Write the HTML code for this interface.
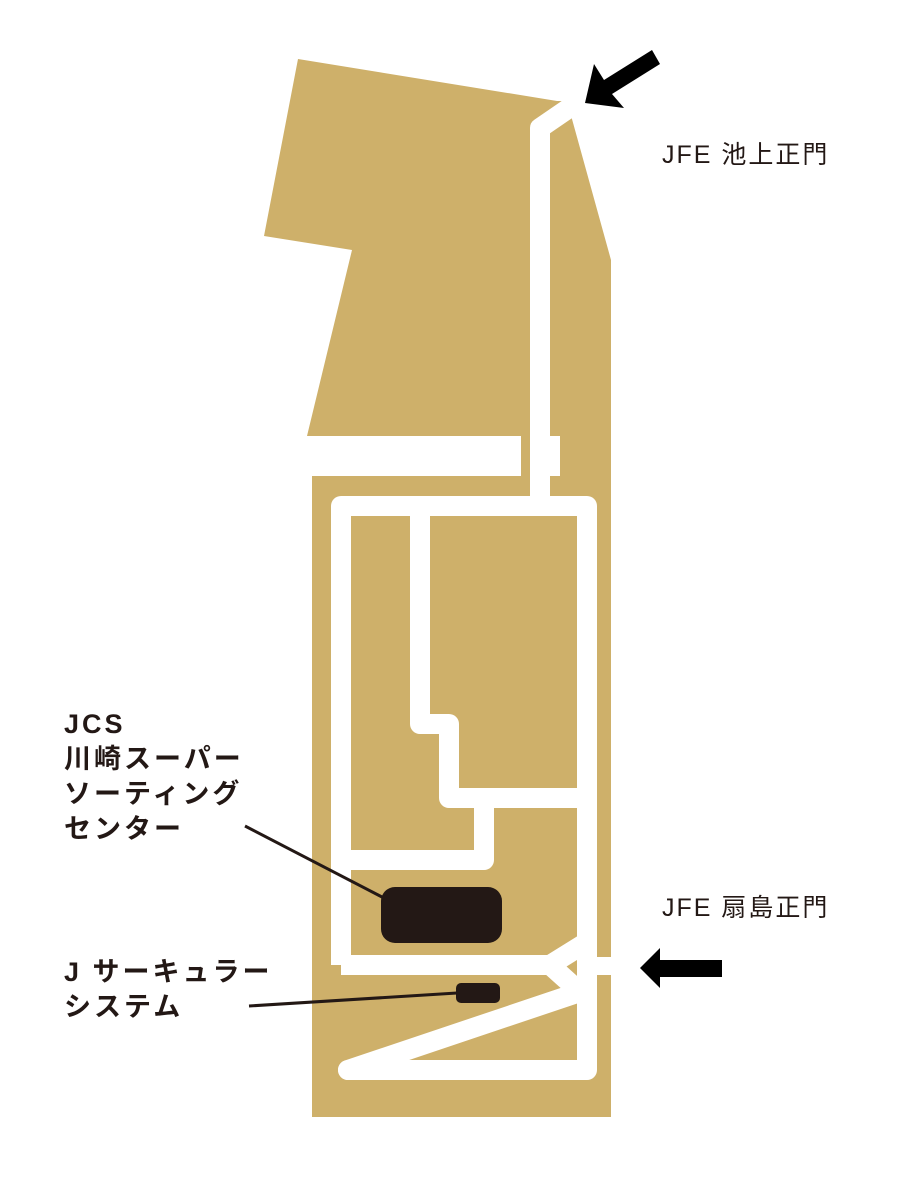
<!DOCTYPE html>
<html><head><meta charset="utf-8"><style>
html,body{margin:0;padding:0;background:#fff;}
svg{display:block;}
text{font-family:"Liberation Sans","Noto Sans CJK JP",sans-serif;fill:#231815;}
.b{font-weight:bold;font-size:27px;letter-spacing:3px;}
.g{font-size:25px;letter-spacing:2px;}
</style></head><body>
<svg width="900" height="1181" viewBox="0 0 900 1181" xmlns="http://www.w3.org/2000/svg">
<rect width="900" height="1181" fill="#fff"/>
<g fill="#ceb06a">
<polygon points="298,59 557,101 567,101 611,260 611,436 307,436 352,250 264,236"/>
<rect x="312" y="476" width="299" height="641"/>
<rect x="521" y="430" width="10" height="50"/>
<rect x="560" y="430" width="51" height="50"/>
</g>
<g fill="none" stroke="#fff" stroke-width="20" stroke-linejoin="round" stroke-linecap="butt">
<polyline points="540,500 540,128 575,104"/>
<path d="M341,965 L341,506 L587,506 L587,1070 L348,1070 L580,992 L550,965 L587,942" stroke-linejoin="round"/>
<line x1="341" y1="965" x2="552" y2="965"/>
<line x1="585" y1="966" x2="612" y2="966" stroke-width="18"/>
<polyline points="420,506 420,724 449,724 449,798 587,798"/>
<polyline points="484,798 484,860 341,860"/>
</g>
<circle cx="348" cy="1070" r="10" fill="#fff"/>
<rect x="381" y="887" width="121" height="56" rx="14" fill="#231815"/>
<rect x="456" y="983" width="44" height="20" rx="5" fill="#231815"/>
<line x1="245" y1="826" x2="382" y2="897" stroke="#231815" stroke-width="3"/>
<line x1="249" y1="1006" x2="457" y2="993" stroke="#231815" stroke-width="3"/>
<g fill="#000">
<polygon points="585,103 594,64 604,80 652,50 660,64 612,94 624,108"/>
<polygon points="640,968 660,948 660,960 722,960 722,977 660,977 660,988"/>
</g>
<text class="g" x="662" y="163">JFE 池上正門</text>
<text class="g" x="662" y="916">JFE 扇島正門</text>
<text class="b" x="64" y="733">JCS</text>
<text class="b" x="64" y="768">川崎スーパー</text>
<text class="b" x="64" y="803">ソーティング</text>
<text class="b" x="64" y="838">センター</text>
<text class="b" x="64" y="981">J サーキュラー</text>
<text class="b" x="64" y="1016">システム</text>
</svg>
</body></html>
